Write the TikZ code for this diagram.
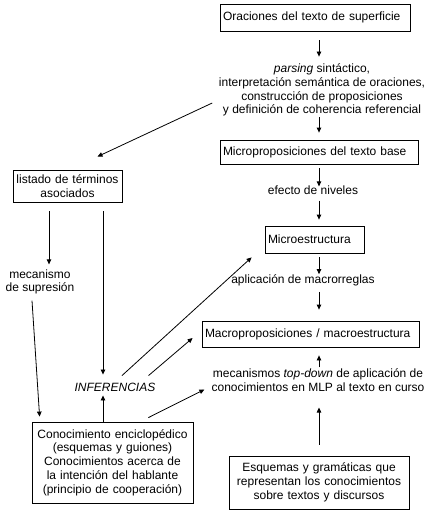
\documentclass[tikz,border=0pt]{standalone}
\usepackage{fontspec}
\setmainfont{Liberation Sans}
\usetikzlibrary{arrows.meta}

\begin{document}
\begin{tikzpicture}[x=1pt,y=-1pt, every node/.style={font=\fontsize{12}{13.7}\selectfont},
 box/.style={draw,line width=0.8pt,inner xsep=3pt,inner ysep=2pt},
 lbox/.style={box,align=left},
 cbox/.style={box,align=center},
 lbl/.style={align=center,inner sep=1pt},
 arr/.style={-{Triangle[length=5pt,width=4.5pt]},line width=0.8pt}]
\useasboundingbox (0,0) rectangle (429,514);
\coordinate (ax) at (319,0);
\coordinate (supx) at (49,0);
\coordinate (infx) at (103,0);
\node[lbox,text width=184pt,minimum height=27pt] (orac) at (315,17.5) {Oraciones del texto de superficie};
\node[lbl] (parse) at (322,90) {\textit{parsing} sintáctico,\\interpretación semántica de oraciones,\\construcción de proposiciones\\y definición de coherencia referencial};
\node[lbox,text width=192pt,minimum height=24pt] (micro) at (319,152) {Microproposiciones del texto base};
\node[lbl] (nivel) at (313,190) {efecto de niveles};
\node[lbox,text width=93pt,minimum height=27pt] (mest) at (314.5,239.5) {Microestructura};
\node[lbl] (macrr) at (303,280) {aplicación de macrorreglas};
\node[lbox,text width=211pt,minimum height=26pt] (macro) at (310.5,334) {Macroproposiciones / macroestructura};
\node[lbl] (topdn) at (318,380) {mecanismos \textit{top-down} de aplicación de\\conocimientos en MLP al texto en curso};
\node[cbox,text width=174pt,minimum height=53pt] (esq) at (319,482.5) {Esquemas y gramáticas que\\representan los conocimientos\\sobre textos y discursos};
\node[cbox,text width=103pt,minimum height=32pt] (list) at (67.5,186) {listado de términos\\asociados};
\node[lbl] (supr) at (40,282) {mecanismo\\de supresión};
\node[lbl,font=\fontsize{12}{13.7}\selectfont\itshape] (infer) at (115,387) {INFERENCIAS};
\node[cbox,text width=155pt,minimum height=81pt] (conoc) at (112.5,462.5) {Conocimiento enciclopédico\\(esquemas y guiones)\\Conocimientos acerca de\\la intención del hablante\\(principio de cooperación)};
\draw[arr,shorten <=9pt,shorten >=6pt] (orac.south -| ax) -- (parse.north -| ax);
\draw[arr,shorten >=7pt] (parse.south -| ax) -- (micro.north -| ax);
\draw[arr,shorten <=4pt,shorten >=-2pt] (micro.south -| ax) -- (nivel.north -| ax);
\draw[arr,shorten <=5pt,shorten >=6pt] (nivel.south -| ax) -- (mest.north -| ax);
\draw[arr,shorten <=4pt,shorten >=-1pt] (mest.south -| ax) -- (macrr.north -| ax);
\draw[arr,shorten <=5pt,shorten >=11pt] (macrr.south -| ax) -- (macro.north -| ax);
\draw[arr,shorten >=8pt] (topdn.north -| ax) -- (macro.south -| ax);
\draw[arr,shorten <=11pt,shorten >=15pt] (esq.north -| ax) -- (topdn.south -| ax);
\draw[arr] ([xshift=-5.5pt,yshift=-13pt]parse.west) -- ([xshift=30pt,yshift=13pt]list.north);
\draw[arr,shorten <=9pt,shorten >=4pt] (list.south -| supx) -- (supr.north -| supx);
\draw[arr,shorten <=9pt,shorten >=7pt] (list.south -| infx) -- (infer.north -| infx);
\draw[arr] ([xshift=-8pt,yshift=-5pt]supr.south) -- ([xshift=8pt,yshift=5pt]conoc.north west);
\draw[arr,shorten >=3pt] (conoc.north -| infx) -- (infer.south -| infx);
\draw[arr] ([xshift=7pt,yshift=6pt]infer.north) -- ([xshift=-13pt,yshift=-4pt]mest.south west);
\draw[arr] ([xshift=-8pt,yshift=6pt]infer.north east) -- ([xshift=-9pt,yshift=-4pt]macro.west);
\draw[arr] ([xshift=-45pt,yshift=4pt]conoc.north east) -- ([xshift=-6pt,yshift=3pt]topdn.south west);
\end{tikzpicture}
\end{document}
